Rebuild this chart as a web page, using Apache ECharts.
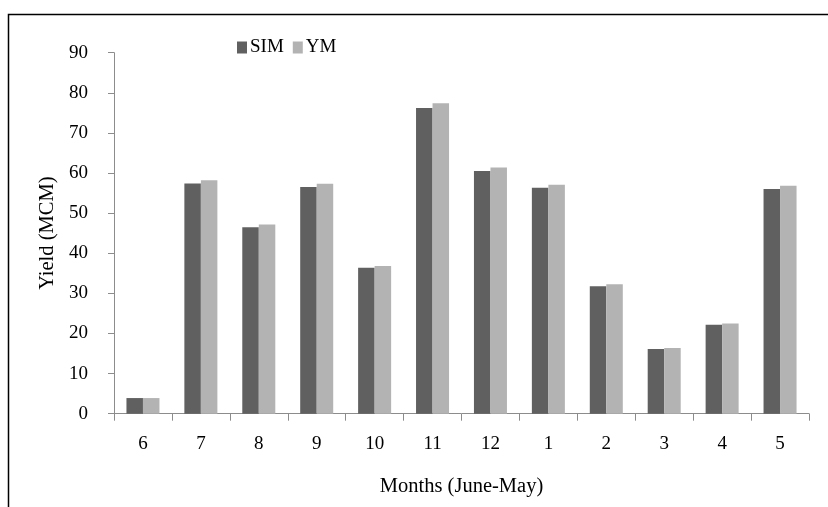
<!DOCTYPE html>
<html>
<head>
<meta charset="utf-8">
<script src="https://cdn.jsdelivr.net/npm/echarts@6/dist/echarts.min.js"></script>
<style>html,body{margin:0;padding:0;background:#fff;}#c{width:828px;height:507px;}</style>
</head>
<body>
<div id="c"></div>
<script>
var categories = ['6','7','8','9','10','11','12','1','2','3','4','5'];
var simValues = [3.9, 57.4, 46.5, 56.5, 36.4, 76.2, 60.5, 56.3, 31.8, 16.1, 22.2, 56.0];
var ymValues  = [3.9, 58.2, 47.2, 57.3, 36.8, 77.4, 61.4, 57.1, 32.3, 16.4, 22.5, 56.8];
var yTicks = [0, 10, 20, 30, 40, 50, 60, 70, 80, 90];

var font = 'Liberation Serif';
var chart = echarts.init(document.getElementById('c'), null, {renderer: 'canvas'});
chart.setOption({
  animation: false,
  backgroundColor: '#fff',
  graphic: [{
    type: 'rect', left: 6, top: 12,
    shape: {width: 900, height: 600},
    style: {fill: 'none', stroke: '#000', lineWidth: 1.5}
  }],
  legend: {
    left: 232, top: 33,
    icon: 'rect',
    itemWidth: 10, itemHeight: 12, itemGap: 9,
    textStyle: {fontFamily: font, fontSize: 19, color: '#000', padding: [0, 0, 0, -2]},
    data: ['SIM', 'YM']
  },
  grid: {left: 114, right: 19, top: 52.7, bottom: 93.3, containLabel: false},
  xAxis: {
    type: 'category', data: categories,
    name: 'Months (June-May)', nameLocation: 'middle', nameGap: 62,
    nameTextStyle: {fontFamily: font, fontSize: 20.5, color: '#000'},
    axisLine: {lineStyle: {color: '#8c8c8c', width: 1}},
    axisTick: {show: true, alignWithLabel: false, length: 7, lineStyle: {color: '#8c8c8c'}},
    axisLabel: {fontFamily: font, fontSize: 19, color: '#000', margin: 21}
  },
  yAxis: {
    type: 'value', min: yTicks[0], max: yTicks[yTicks.length-1], interval: 10,
    name: 'Yield (MCM)', nameLocation: 'middle', nameGap: 55,
    nameTextStyle: {fontFamily: font, fontSize: 20.5, color: '#000'},
    axisLine: {show: true, lineStyle: {color: '#8c8c8c', width: 1}},
    axisTick: {show: true, length: 6, lineStyle: {color: '#8c8c8c'}},
    splitLine: {show: false},
    axisLabel: {fontFamily: font, fontSize: 19, color: '#000', margin: 26}
  },
  series: [
    {name: 'SIM', type: 'bar', data: simValues, barGap: '0%', barCategoryGap: '43%',
     itemStyle: {color: '#606060'}},
    {name: 'YM', type: 'bar', data: ymValues, barGap: '0%', barCategoryGap: '43%',
     itemStyle: {color: '#b3b3b3'}}
  ]
});
</script>
</body>
</html>
